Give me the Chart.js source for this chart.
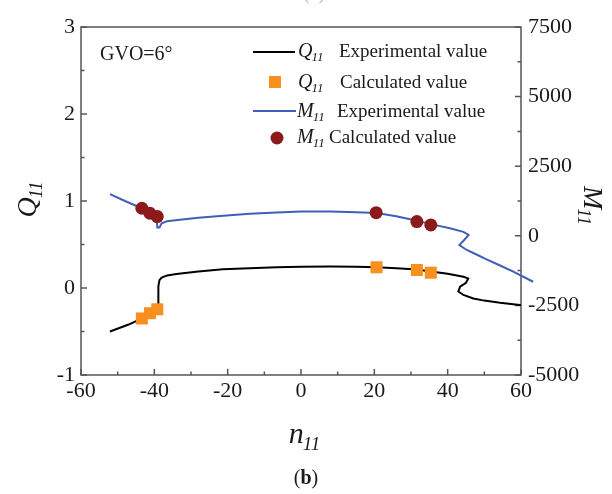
<!DOCTYPE html>
<html>
<head>
<meta charset="utf-8">
<script src="https://cdn.jsdelivr.net/npm/chart.js@4.4.1/dist/chart.umd.min.js"></script>
<style>
  html, body { margin: 0; padding: 0; background: #fff; }
  #wrap { width: 612px; height: 494px; }
</style>
</head>
<body>
<div id="wrap"><canvas id="chart" width="612" height="494"></canvas></div>
<script>
// Q11 experimental curve (n11, Q11)
const qExpN = [-52.1, -47, -43.4, -41.2, -39.3, -39.0, -38.9, -38.9, -38.6, -38.0, -36.5, -34, -28, -21.3, -14, -6.6, 0, 8, 15, 20.6, 26, 31.6, 35.4, 40, 44.3, 45.6, 45.0, 43.4, 42.9, 44.3, 47, 50, 54.3, 59.7, 60];
const qExpVal = [-0.50, -0.42, -0.35, -0.29, -0.245, -0.20, -0.10, 0.02, 0.09, 0.12, 0.145, 0.16, 0.19, 0.215, 0.228, 0.238, 0.243, 0.246, 0.243, 0.238, 0.228, 0.212, 0.19, 0.165, 0.13, 0.11, 0.06, 0.015, -0.04, -0.08, -0.12, -0.145, -0.17, -0.195, -0.195];

// Q11 calculated points
const qCalcN = [-43.4, -41.2, -39.2, 20.6, 31.6, 35.4];
const qCalcVal = [-0.35, -0.29, -0.245, 0.238, 0.207, 0.176];

// M11 experimental curve (n11, M11)
const mExpN = [-52.1, -48, -45, -43.4, -41.2, -39.6, -39.3, -39.2, -38.6, -38.0, -36.6, -33, -28, -21.2, -14, -6.6, 0, 8, 15, 20.6, 26, 31.6, 35.4, 40.6, 44.3, 45.7, 44.5, 43.2, 45.2, 48, 50.6, 54, 57.9, 63.3];
const mExpVal = [1500, 1250, 1080, 990, 850, 720, 550, 300, 300, 450, 520, 580, 650, 720, 790, 835, 870, 870, 850, 820, 700, 540, 420, 270, 140, 30, -150, -330, -510, -680, -845, -1050, -1290, -1650];

// M11 calculated points
const mCalcN = [-43.4, -41.2, -39.2, 20.5, 31.6, 35.4];
const mCalcVal = [990, 810, 690, 830, 510, 390];

// axis ticks
const nTicks = [-60, -40, -20, 0, 20, 40, 60];
const nMinor = [-50, -30, -10, 10, 30, 50];
const qTicks = [-1, 0, 1, 2, 3];
const qMinor = [-0.5, 0.5, 1.5, 2.5];
const mTicks = [-5000, -2500, 0, 2500, 5000, 7500];
const mMinor = [-3750, -1250, 1250, 3750, 6250];

const SERIF = '"Liberation Serif", "DejaVu Serif", serif';
const AXIS_COLOR = '#555';

function pairs(xs, ys) {
  return xs.map((x, i) => ({ x: x, y: ys[i] }));
}

// text with a subscript, baseline at y
function subText(ctx, x, y, main, sub, size, subSize, align) {
  ctx.font = `italic ${size}px ${SERIF}`;
  const w1 = ctx.measureText(main).width;
  ctx.font = `italic ${subSize}px ${SERIF}`;
  const w2 = ctx.measureText(sub).width;
  let x0 = x;
  if (align === 'center') x0 = x - (w1 + w2) / 2;
  ctx.textAlign = 'left';
  ctx.textBaseline = 'alphabetic';
  ctx.font = `italic ${size}px ${SERIF}`;
  ctx.fillText(main, x0, y);
  ctx.font = `italic ${subSize}px ${SERIF}`;
  ctx.fillText(sub, x0 + w1 - 1, y + size * 0.22);
  return x0 + w1 + w2;
}

const framePlugin = {
  id: 'frame',
  beforeDatasetsDraw(chart) {
    const { ctx, chartArea: a, scales } = chart;
    ctx.save();
    ctx.strokeStyle = AXIS_COLOR;
    ctx.lineWidth = 1.5;
    ctx.strokeRect(a.left, a.top, a.right - a.left, a.bottom - a.top);

    ctx.beginPath();
    nTicks.forEach(v => { const p = scales.x.getPixelForValue(v); ctx.moveTo(p, a.bottom); ctx.lineTo(p, a.bottom - 6); });
    nMinor.forEach(v => { const p = scales.x.getPixelForValue(v); ctx.moveTo(p, a.bottom); ctx.lineTo(p, a.bottom - 3.5); });
    qTicks.forEach(v => { const p = scales.y.getPixelForValue(v); ctx.moveTo(a.left, p); ctx.lineTo(a.left + 6, p); });
    qMinor.forEach(v => { const p = scales.y.getPixelForValue(v); ctx.moveTo(a.left, p); ctx.lineTo(a.left + 3.5, p); });
    mTicks.forEach(v => { const p = scales.y1.getPixelForValue(v); ctx.moveTo(a.right, p); ctx.lineTo(a.right - 6, p); });
    mMinor.forEach(v => { const p = scales.y1.getPixelForValue(v); ctx.moveTo(a.right, p); ctx.lineTo(a.right - 3.5, p); });
    ctx.stroke();
    ctx.restore();
  },
  afterDraw(chart) {
    const ctx = chart.ctx;
    ctx.save();
    ctx.fillStyle = '#1a1a1a';

    // annotation
    ctx.font = `20px ${SERIF}`;
    ctx.textAlign = 'left';
    ctx.fillText('GVO=6°', 100, 60);

    // legend
    ctx.lineWidth = 2;
    ctx.strokeStyle = '#000';
    ctx.beginPath(); ctx.moveTo(253, 52); ctx.lineTo(295, 52); ctx.stroke();
    ctx.strokeStyle = '#4060b8';
    ctx.beginPath(); ctx.moveTo(253, 111); ctx.lineTo(296, 111); ctx.stroke();
    ctx.fillStyle = '#f7901e';
    ctx.fillRect(269, 76, 12, 12);
    ctx.fillStyle = '#8b1a1a';
    ctx.beginPath(); ctx.arc(277, 138, 6.5, 0, Math.PI * 2); ctx.fill();

    ctx.fillStyle = '#1a1a1a';
    const rows = [
      ['Q', 298, 57, 'Experimental value', 339],
      ['Q', 298, 88, 'Calculated value', 340],
      ['M', 297, 117, 'Experimental value', 337],
      ['M', 297, 143, 'Calculated value', 329]
    ];
    rows.forEach(([sym, sx, by, label, lx]) => {
      subText(ctx, sx, by, sym, '11', 20, 13, 'left');
      ctx.font = `19px ${SERIF}`;
      ctx.textAlign = 'left';
      ctx.fillText(label, lx, by);
    });

    // axis titles
    subText(ctx, 305, 443, 'n', '11', 30, 19, 'center');

    ctx.save();
    ctx.translate(27, 199);
    ctx.rotate(-Math.PI / 2);
    subText(ctx, 0, 9, 'Q', '11', 28, 18, 'center');
    ctx.restore();

    ctx.save();
    ctx.translate(593, 206);
    ctx.rotate(Math.PI / 2);
    subText(ctx, 0, 9, 'M', '11', 28, 18, 'center');
    ctx.restore();

    // panel labels
    ctx.textAlign = 'left';
    ctx.font = `20px ${SERIF}`;
    const wp = ctx.measureText('(').width;
    ctx.font = `bold 20px ${SERIF}`;
    const wb = ctx.measureText('b').width;
    const bx = 306 - (2 * wp + wb) / 2;
    ctx.font = `20px ${SERIF}`;
    ctx.fillText('(', bx, 484);
    ctx.fillText(')', bx + wp + wb, 484);
    ctx.font = `bold 20px ${SERIF}`;
    ctx.fillText('b', bx + wp, 484);
    ctx.fillStyle = '#bbb';
    ctx.font = `20px ${SERIF}`;
    ctx.fillText('(a)', 303, -1);

    ctx.restore();
  }
};

const tickFont = { family: SERIF, size: 22 };

new Chart(document.getElementById('chart'), {
  type: 'scatter',
  data: {
    datasets: [
      {
        label: 'Q11 Experimental value',
        data: pairs(qExpN, qExpVal),
        yAxisID: 'y',
        showLine: true,
        borderColor: '#000',
        borderWidth: 2,
        pointRadius: 0,
        tension: 0,
        order: 2
      },
      {
        label: 'Q11 Calculated value',
        data: pairs(qCalcN, qCalcVal),
        yAxisID: 'y',
        pointStyle: 'rect',
        pointRadius: 8.5,
        backgroundColor: '#f7901e',
        borderColor: '#f7901e',
        borderWidth: 0,
        order: 1
      },
      {
        label: 'M11 Experimental value',
        data: pairs(mExpN, mExpVal),
        yAxisID: 'y1',
        showLine: true,
        borderColor: '#4060b8',
        borderWidth: 2,
        pointRadius: 0,
        tension: 0,
        clip: false,
        order: 2
      },
      {
        label: 'M11 Calculated value',
        data: pairs(mCalcN, mCalcVal),
        yAxisID: 'y1',
        pointStyle: 'circle',
        pointRadius: 6.5,
        backgroundColor: '#8b1a1a',
        borderColor: '#8b1a1a',
        borderWidth: 0,
        order: 1
      }
    ]
  },
  options: {
    responsive: false,
    animation: false,
    devicePixelRatio: 1,
    layout: { padding: { top: 27, left: 0, right: 0, bottom: 0 } },
    plugins: { legend: { display: false }, tooltip: { enabled: false } },
    scales: {
      x: {
        type: 'linear',
        min: -60,
        max: 60,
        ticks: { stepSize: 20, padding: 3, font: tickFont, color: '#1a1a1a', maxRotation: 0, callback: v => String(v) },
        grid: { display: false, drawTicks: false },
        border: { display: false },
        afterFit(scale) { scale.height = 119; }
      },
      y: {
        position: 'left',
        min: -1,
        max: 3,
        ticks: { stepSize: 1, padding: 6, font: tickFont, color: '#1a1a1a', callback: v => String(v) },
        grid: { display: false, drawTicks: false },
        border: { display: false },
        afterFit(scale) { scale.width = 81; }
      },
      y1: {
        position: 'right',
        min: -5000,
        max: 7500,
        ticks: { stepSize: 2500, padding: 7, font: tickFont, color: '#1a1a1a', callback: v => String(v) },
        grid: { display: false, drawTicks: false },
        border: { display: false },
        afterFit(scale) { scale.width = 91; }
      }
    }
  },
  plugins: [framePlugin]
});
</script>
</body>
</html>
